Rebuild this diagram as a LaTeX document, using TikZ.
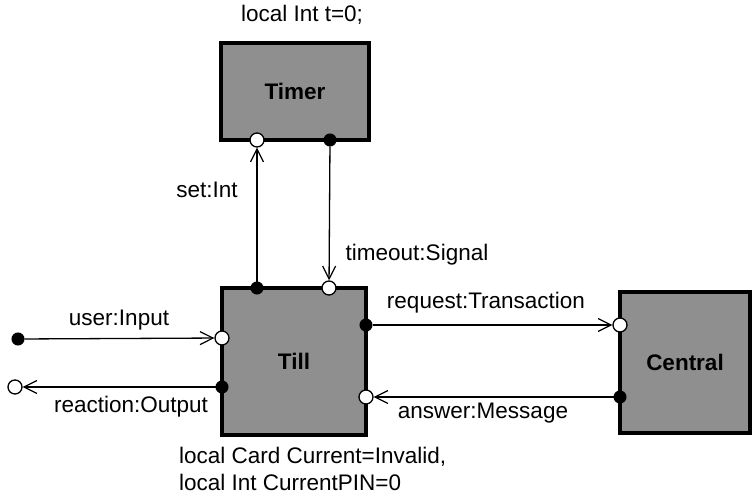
\documentclass[tikz,border=0pt]{standalone}
\usepackage{fontspec}
\setmainfont{Liberation Sans}
\usetikzlibrary{arrows.meta}
\definecolor{boxgray}{RGB}{143,143,143}
\tikzset{
  capsule/.style={draw=black, fill=boxgray, line width=3.8pt, inner sep=0pt, font=\fontsize{22.5}{27}\selectfont\bfseries},
  openport/.style={circle, draw=black, fill=white, line width=1.3pt, minimum size=14pt, inner sep=0pt},
  fullport/.style={circle, draw=black, fill=black, line width=1pt, minimum size=12pt, inner sep=0pt},
  wire/.style={line width=1.3pt, -{Straight Barb[length=13pt,width=13pt,line width=1.2pt]}},
  lbl/.style={font=\fontsize{22.5}{27}\selectfont, inner sep=0pt}
}
\begin{document}
\begin{tikzpicture}[x=1pt,y=-1pt]
\useasboundingbox (0,0) rectangle (754,494);
% boxes
\node[capsule, minimum width=148pt, minimum height=97pt] (timer) at (295,91.5) {Timer};
\node[capsule, minimum width=144pt, minimum height=147pt] (till) at (294,361.5) {Till};
\node[capsule, minimum width=130pt, minimum height=141pt] (central) at (685,362.5) {Central};
% ports
\node[openport] (tset) at (257,140) {};
\node[fullport] (tout) at (330,140) {};
\node[fullport] (lset) at (257,288) {};
\node[openport] (lout) at (329,288) {};
\node[openport] (luser) at (222,338) {};
\node[fullport] (lreact) at (222,387) {};
\node[fullport] (lreq) at (366,325) {};
\node[openport] (lans) at (366,397) {};
\node[openport] (creq) at (620,325) {};
\node[fullport] (cans) at (620,397) {};
\node[fullport] (env1) at (18,339) {};
\node[openport] (env2) at (15,387) {};
% connectors
\draw[wire] (lset) -- (tset);
\draw[wire] (tout) -- (lout);
\draw[wire] (env1) -- (luser);
\draw[wire] (lreact) -- (env2);
\draw[wire] (lreq) -- (creq);
\draw[wire] (cans) -- (lans);
% labels
\node[lbl] (l1) at (302,15) {local Int t=0;};
\node[lbl] (l2) at (207,190) {set:Int};
\node[lbl] (l3) at (417,255) {timeout:Signal};
\node[lbl] (l4) at (119,320) {user:Input};
\node[lbl] (l5) at (131,407) {reaction:Output};
\node[lbl] (l6) at (486,303) {request:Transaction};
\node[lbl] (l7) at (483,413) {answer:Message};
\node[lbl, anchor=west, align=left] (l8) at (179,468.5) {local Card Current=Invalid,\\local Int CurrentPIN=0};
\end{tikzpicture}
\end{document}
